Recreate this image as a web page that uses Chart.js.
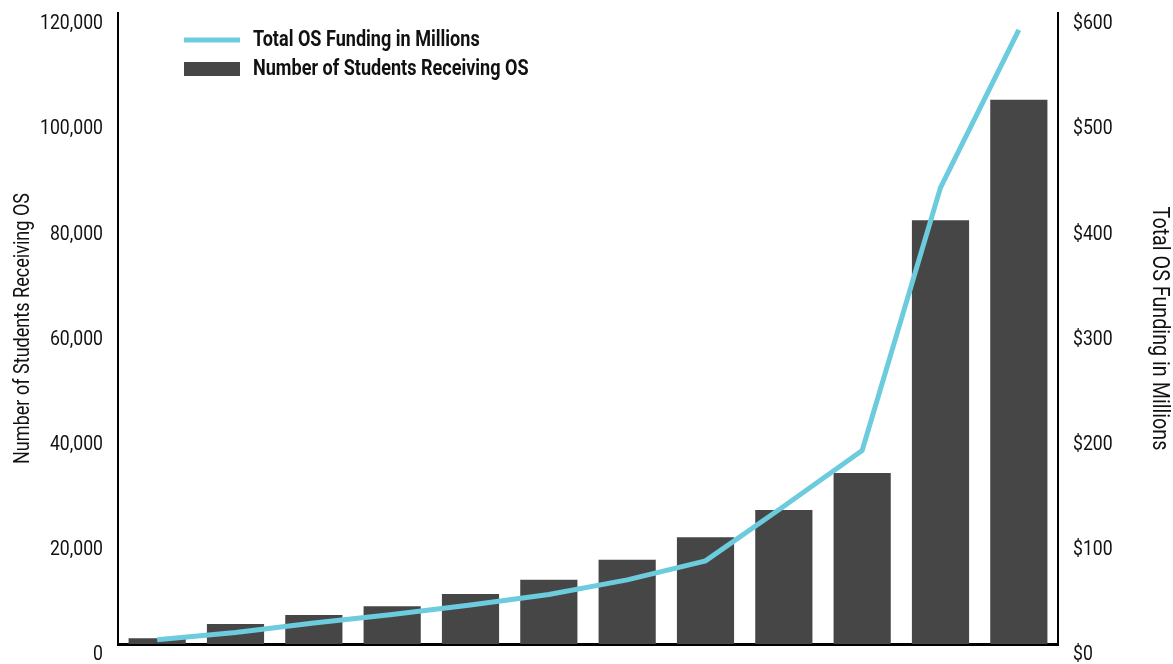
<!DOCTYPE html>
<html>
<head>
<meta charset="utf-8">
<script src="https://cdn.jsdelivr.net/npm/chart.js@4.4.0/dist/chart.umd.min.js"></script>
<style>
  html, body { margin: 0; padding: 0; background: #fff; }
  #wrap { width: 1173px; height: 664px; position: relative; }
</style>
</head>
<body>
<div id="wrap"><canvas id="grafico"></canvas></div>
<script>
// Dados do gráfico
const categorias = ['1', '2', '3', '4', '5', '6', '7', '8', '9', '10', '11', '12'];
const alunos = [1100, 3800, 5500, 7200, 9500, 12200, 16000, 20300, 25500, 32500, 80600, 103500];
const financiamento = [4, 11, 20, 28, 37, 47, 61, 79, 131, 184, 434, 584];
const ticksAlunos = [0, 20000, 40000, 60000, 80000, 100000, 120000];
const ticksFinanciamento = [0, 100, 200, 300, 400, 500, 600];

const FONTE = "Roboto, 'Liberation Sans', sans-serif";
const ESTREITO = 0.84; // fonte condensada: comprime o texto na horizontal
const COR_LINHA = '#6ccbdc';
const COR_BARRA = '#464646';

// Texto condensado (não há fonte estreita instalada)
const textoCondensado = {
    id: 'textoCondensado',
    beforeInit(chart) {
        const c = chart.ctx;
        const original = c.fillText.bind(c);
        c.fillText = function (t, x, y) {
            c.save();
            c.translate(x, y);
            c.scale(ESTREITO, 1);
            original(t, 0, 0);
            c.restore();
        };
    }
};

// Legenda desenhada dentro da área do gráfico
const legendaInterna = {
    id: 'legendaInterna',
    afterDraw(chart) {
        const ctx = chart.ctx;
        const ds = chart.data.datasets;
        const x = 184;
        ctx.save();
        ctx.font = 'bold 21.5px ' + FONTE;
        ctx.textBaseline = 'middle';
        ctx.textAlign = 'left';
        // linha
        ctx.strokeStyle = COR_LINHA;
        ctx.lineWidth = 5;
        ctx.beginPath();
        ctx.moveTo(x, 40);
        ctx.lineTo(x + 56, 40);
        ctx.stroke();
        ctx.fillStyle = '#111';
        ctx.fillText(ds[0].label, 253, 41);
        // barra
        ctx.fillStyle = COR_BARRA;
        ctx.fillRect(x, 62, 56, 14);
        ctx.fillStyle = '#111';
        ctx.fillText(ds[1].label, 253, 70);
        ctx.restore();
    }
};

// margens verticais fixas da área do gráfico
function ajustarEixoY(largura) {
    return function (scale) {
        scale.width = largura;
        scale.paddingTop = 13;
        scale.paddingBottom = 0;
    };
}

const ctx = document.getElementById('grafico').getContext('2d');
new Chart(ctx, {
    data: {
        labels: categorias,
        datasets: [{
            type: 'line',
            label: 'Total OS Funding in Millions',
            data: financiamento,
            yAxisID: 'yDir',
            borderColor: COR_LINHA,
            borderWidth: 5,
            pointRadius: 0,
            tension: 0,
            fill: false,
            order: 0
        }, {
            type: 'bar',
            label: 'Number of Students Receiving OS',
            data: alunos,
            yAxisID: 'yEsq',
            backgroundColor: COR_BARRA,
            barPercentage: 0.73,
            categoryPercentage: 1,
            order: 1
        }]
    },
    options: {
        responsive: true,
        maintainAspectRatio: false,
        animation: false,
        layout: { padding: 0 },
        plugins: {
            legend: { display: false },
            tooltip: { enabled: false }
        },
        scales: {
            x: {
                grid: { display: false, drawTicks: false },
                border: { display: true, color: '#000', width: 3 },
                ticks: { display: false },
                afterFit(scale) {
                    scale.height = 20;
                    scale.paddingLeft = 0;
                    scale.paddingRight = 0;
                }
            },
            yEsq: {
                position: 'left',
                min: 0,
                max: 120000,
                afterBuildTicks(scale) { scale.ticks = ticksAlunos.map(v => ({ value: v })); },
                grid: { display: false, drawTicks: false },
                border: { display: true, color: '#000', width: 2 },
                ticks: {
                    color: '#111',
                    padding: 15,
                    labelOffset: 11,
                    font: { family: FONTE, size: 21 },
                    callback: v => v.toLocaleString('en-US')
                },
                title: {
                    display: true,
                    text: 'Number of Students Receiving OS',
                    color: '#111',
                    font: { family: FONTE, size: 21.5 },
                    padding: { top: 11, bottom: 0 }
                },
                afterFit: ajustarEixoY(118)
            },
            yDir: {
                position: 'right',
                min: 0,
                max: 600,
                afterBuildTicks(scale) { scale.ticks = ticksFinanciamento.map(v => ({ value: v })); },
                grid: { display: false, drawTicks: false },
                border: { display: true, color: '#000', width: 2 },
                ticks: {
                    color: '#111',
                    padding: 15,
                    labelOffset: 11,
                    font: { family: FONTE, size: 21 },
                    callback: v => '$' + v
                },
                title: {
                    display: true,
                    text: 'Total OS Funding in Millions',
                    color: '#111',
                    font: { family: FONTE, size: 23.5 },
                    padding: { top: 0, bottom: 9 }
                },
                afterFit: ajustarEixoY(115)
            }
        }
    },
    plugins: [textoCondensado, legendaInterna]
});
</script>
</body>
</html>
